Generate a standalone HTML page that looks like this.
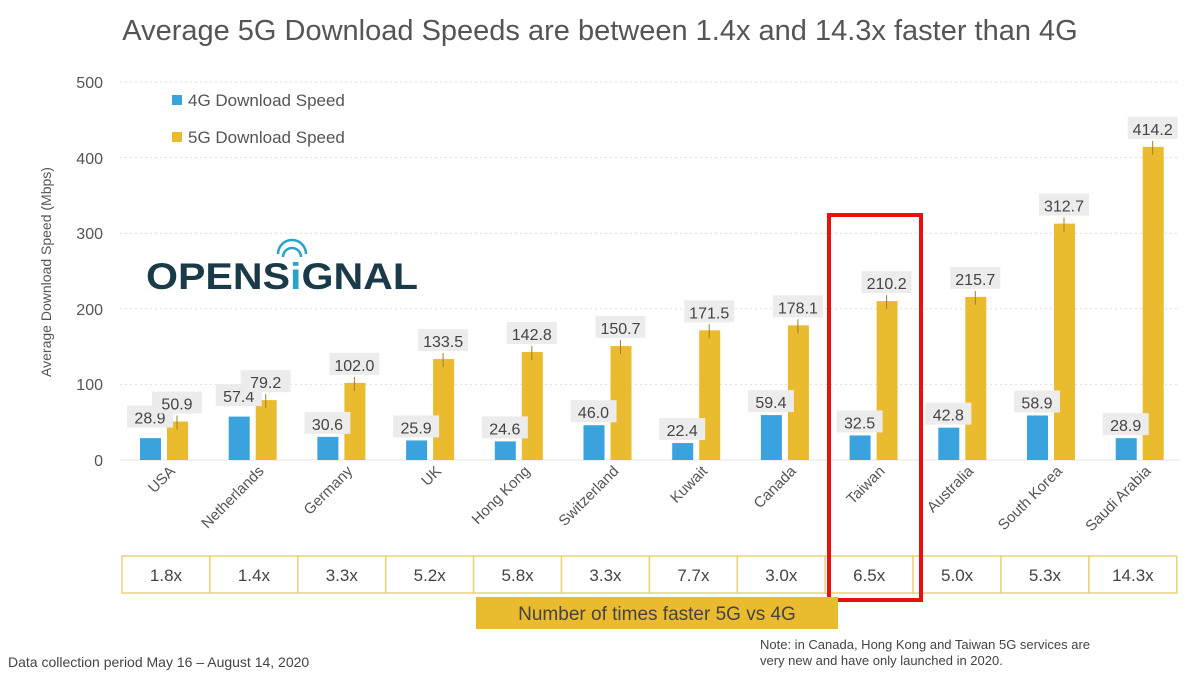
<!DOCTYPE html>
<html><head><meta charset="utf-8"><style>
body{margin:0;background:#fff;}
svg{display:block;font-family:"Liberation Sans",sans-serif;}
</style></head><body>
<svg width="1200" height="675" viewBox="0 0 1200 675">
<text x="600" y="40" text-anchor="middle" font-size="29" fill="#555">Average 5G Download Speeds are between 1.4x and 14.3x faster than 4G</text>
<g stroke="#ddd" stroke-width="1" stroke-dasharray="2,3">
<line x1="120" x2="1180" y1="82" y2="82"/><line x1="120" x2="1180" y1="157.6" y2="157.6"/><line x1="120" x2="1180" y1="233.2" y2="233.2"/><line x1="120" x2="1180" y1="308.8" y2="308.8"/><line x1="120" x2="1180" y1="384.4" y2="384.4"/>
</g>
<line x1="120" x2="1180" y1="460" y2="460" stroke="#e4e4e4"/>
<g font-size="16" fill="#555" text-anchor="end">
<text x="103" y="88">500</text><text x="103" y="164">400</text><text x="103" y="239">300</text><text x="103" y="315">200</text><text x="103" y="390">100</text><text x="103" y="466">0</text>
</g>
<text transform="translate(51,272) rotate(-90)" text-anchor="middle" font-size="14" fill="#555">Average Download Speed (Mbps)</text>
<rect x="172" y="95" width="10" height="10" fill="#3aa3dd"/><text x="188" y="106" font-size="17" fill="#555">4G Download Speed</text>
<rect x="172" y="132" width="10" height="10" fill="#ebbb2f"/><text x="188" y="143" font-size="17" fill="#555">5G Download Speed</text>
<text x="146" y="289" font-size="37" font-weight="bold" fill="#1a3a4a" textLength="272" lengthAdjust="spacingAndGlyphs">OPENS<tspan fill="#2aa3c8">i</tspan>GNAL</text>
<g fill="none" stroke="#2aa3c8" stroke-width="2.5"><path d="M283 257 a9 9 0 0 1 18 0"/><path d="M278 254 a14 14 0 0 1 28 0"/></g>
<g id="bars"></g>
<rect x="829" y="215" width="92" height="385" fill="none" stroke="#e8110f" stroke-width="4"/>
<rect x="476" y="597" width="362" height="32" fill="#ebbb2f"/>
<text x="657" y="620" text-anchor="middle" font-size="19" fill="#444">Number of times faster 5G vs 4G</text>
<text x="8" y="667" font-size="14" fill="#444">Data collection period May 16 – August 14, 2020</text>
<text x="760" y="649" font-size="13" fill="#444">Note: in Canada, Hong Kong and Taiwan 5G services are</text>
<text x="760" y="665" font-size="13" fill="#444">very new and have only launched in 2020.</text>
</svg>
<script>
var d=[["USA",28.9,50.9,"1.8x"],["Netherlands",57.4,79.2,"1.4x"],["Germany",30.6,102.0,"3.3x"],["UK",25.9,133.5,"5.2x"],["Hong Kong",24.6,142.8,"5.8x"],["Switzerland",46.0,150.7,"3.3x"],["Kuwait",22.4,171.5,"7.7x"],["Canada",59.4,178.1,"3.0x"],["Taiwan",32.5,210.2,"6.5x"],["Australia",42.8,215.7,"5.0x"],["South Korea",58.9,312.7,"5.3x"],["Saudi Arabia",28.9,414.2,"14.3x"]];
var s="",k=0.756;
d.forEach(function(r,i){var bx=140+i*88.7,yx=bx+27;var hb=r[1]*k,hy=r[2]*k;
s+='<rect x="'+bx+'" y="'+(460-hb)+'" width="21" height="'+hb+'" fill="#3aa3dd"/>';
s+='<rect x="'+yx+'" y="'+(460-hy)+'" width="21" height="'+hy+'" fill="#ebbb2f"/>';
var lb=460-hb-7, ly=460-hy-12;
if(i<2){lb=Math.min(lb,ly+14);}
s+='<rect x="'+(bx-13)+'" y="'+(lb-18)+'" width="46" height="22" fill="#ececec"/><text x="'+(bx+10)+'" y="'+(lb)+'" text-anchor="middle" font-size="16" fill="#444">'+r[1].toFixed(1)+'</text>';
s+='<rect x="'+(yx-15)+'" y="'+(ly-18)+'" width="50" height="22" fill="#ececec"/><text x="'+(yx+10)+'" y="'+ly+'" text-anchor="middle" font-size="16" fill="#444">'+r[2].toFixed(1)+'</text>';
s+='<line x1="'+(yx+10)+'" x2="'+(yx+10)+'" y1="'+(460-hy-6)+'" y2="'+(460-hy+8)+'" stroke="#a08020" stroke-width="1"/>';
var cx=bx+36;
s+='<text transform="translate('+cx+',472) rotate(-45)" text-anchor="end" font-size="15" fill="#555">'+r[0]+'</text>';
var tx=122+i*87.9;
s+='<rect x="'+tx+'" y="556" width="87.9" height="37" fill="#fff" stroke="#e8d27a" stroke-width="1.5"/><text x="'+(tx+44)+'" y="581" text-anchor="middle" font-size="17" fill="#444">'+r[3]+'</text>';
});
document.getElementById("bars").innerHTML=s;
</script>
</body></html>
